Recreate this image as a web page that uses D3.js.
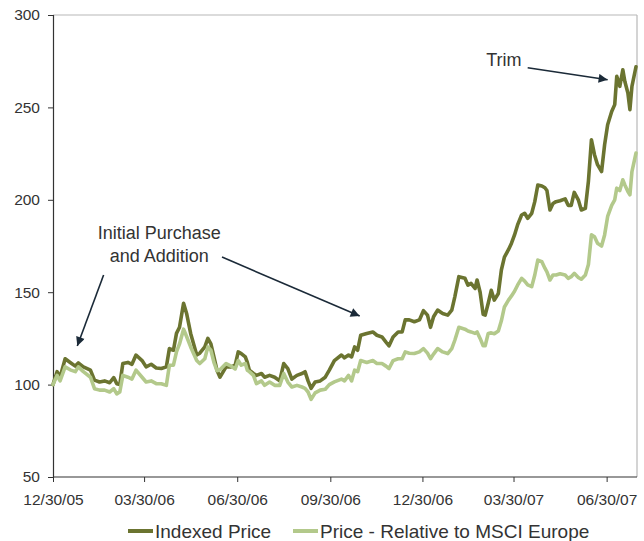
<!DOCTYPE html>
<html><head><meta charset="utf-8">
<script src="https://cdn.jsdelivr.net/npm/d3@7"></script>
<style>body{margin:0;background:#fff}svg{display:block}</style>
</head><body><svg id="c" width="644" height="541"></svg>
<script>
const dates = ["2005-12-30","2006-01-03","2006-01-06","2006-01-11","2006-01-16","2006-01-21","2006-01-24","2006-01-29","2006-02-05","2006-02-09","2006-02-14","2006-02-19","2006-02-24","2006-02-28","2006-03-03","2006-03-06","2006-03-09","2006-03-14","2006-03-18","2006-03-22","2006-03-28","2006-04-01","2006-04-06","2006-04-11","2006-04-16","2006-04-21","2006-04-24","2006-04-28","2006-05-01","2006-05-04","2006-05-08","2006-05-11","2006-05-15","2006-05-21","2006-05-24","2006-05-29","2006-06-01","2006-06-04","2006-06-07","2006-06-10","2006-06-13","2006-06-19","2006-06-24","2006-06-28","2006-07-01","2006-07-04","2006-07-08","2006-07-10","2006-07-12","2006-07-16","2006-07-19","2006-07-24","2006-07-27","2006-08-01","2006-08-06","2006-08-11","2006-08-15","2006-08-19","2006-08-23","2006-08-28","2006-09-02","2006-09-05","2006-09-08","2006-09-11","2006-09-15","2006-09-20","2006-09-25","2006-09-29","2006-10-04","2006-10-11","2006-10-14","2006-10-18","2006-10-21","2006-10-24","2006-10-27","2006-10-30","2006-11-05","2006-11-11","2006-11-15","2006-11-20","2006-11-24","2006-11-27","2006-12-01","2006-12-06","2006-12-10","2006-12-13","2006-12-17","2006-12-22","2006-12-27","2006-12-31","2007-01-04","2007-01-07","2007-01-10","2007-01-14","2007-01-19","2007-01-24","2007-01-28","2007-01-31","2007-02-04","2007-02-10","2007-02-13","2007-02-16","2007-02-20","2007-02-22","2007-02-25","2007-02-28","2007-03-02","2007-03-05","2007-03-08","2007-03-11","2007-03-15","2007-03-18","2007-03-21","2007-03-25","2007-03-28","2007-03-31","2007-04-03","2007-04-07","2007-04-10","2007-04-13","2007-04-17","2007-04-20","2007-04-23","2007-04-27","2007-04-30","2007-05-02","2007-05-05","2007-05-08","2007-05-11","2007-05-15","2007-05-20","2007-05-23","2007-05-26","2007-05-29","2007-06-02","2007-06-05","2007-06-09","2007-06-12","2007-06-15","2007-06-18","2007-06-21","2007-06-25","2007-06-28","2007-07-01","2007-07-05","2007-07-08","2007-07-10","2007-07-13","2007-07-16","2007-07-18","2007-07-21","2007-07-23","2007-07-25","2007-07-29"];
const indexedPrice = [100,107,104,114,112,110,111.7,109.6,107.8,102.4,101.4,102,101,103.8,100.5,100,111.4,112,111,116,113,109.6,111,109,108.7,109.6,119.5,118.6,127.7,131,144,138.5,127.7,116,117,120.4,125,122,115,107.8,104,109.6,109.6,110.5,117.7,116.8,115,112,107.8,106,105,106,104,105,104,102,111.4,108.7,103,105,106,107,102,98,101.4,102,104,107.8,113,116,114.5,116,115,120.4,118.6,126.7,127.7,128.5,126.7,125.8,123,121,125.8,128.5,128.5,135,135,134,135,140,137.6,131,136.7,140.3,138.5,137.6,140.3,147.5,158.4,157.5,153.8,154.8,152,156.6,150,138,137.6,144,151,145.7,149.3,162,169,173,176.5,181,186.4,191.8,192.7,190,192.7,199,208,207.5,206.5,205,194.5,198,199,199.5,200.5,197,197,204,200,194.5,195.4,210,232.5,224.4,219,215.3,229.8,240.6,247.8,251.5,266.8,261.4,270.4,264,257.8,248.8,261.4,272];
const relativePrice = [100,105,102,109.6,108,107,109.6,107,104,97.8,97,97,96,97.8,95,96,105,104,103,107.8,104,101.4,102,100.5,100.5,99.6,110.5,110.5,117.7,122,130,126,120.4,113,111.4,114,120.4,118.6,112,107.5,108,111.4,110,108.5,113,110.5,111.4,107.8,107,105,100.5,102,99.6,101.4,99.6,99.6,106,101.4,98.7,99.6,98.7,98,96,92,95.5,97,97.5,100,101.5,103,102,105,102,107.8,107,113,112,113,111.4,111.4,110,108.7,113,114,114,117.7,117,116.8,117.7,119.5,117,114,116.5,119.5,117.7,116.8,119.5,124,131,130,129,128.5,127.7,128.5,125,121,121,127.7,128,127.5,129,134.5,142,145.7,148,150.5,153.8,157.5,156,154,153,159.3,167.4,166.5,163,161,156.6,159.3,159.3,160,159.3,157.5,158.4,160.2,158,157,159.3,165,181,180,176.5,175,181,191,197,200,206.3,205,210.8,208,204.5,202.7,215.3,225.3];
const seriesNames = ["Indexed Price", "Price - Relative to MSCI Europe"];
const seriesColors = ["#6b7430", "#b3c98b"];
const yTicks = [50, 100, 150, 200, 250, 300];
const xTickDates = ["2005-12-30","2006-03-30","2006-06-30","2006-09-30","2006-12-30","2007-03-30","2007-06-30"];
const xTickLabels = ["12/30/05","03/30/06","06/30/06","09/30/06","12/30/06","03/30/07","06/30/07"];
const xDomain = ["2005-12-30","2007-07-30"];
const yDomain = [50, 300];
// annotations in data space: [date, value]
const annotations = [
  {lines:["Initial Purchase","and Addition"], at:["2006-04-14",178.8], anchor:"middle"},
  {lines:["Trim"], at:["2007-03-03",272.4], anchor:"start"}
];
const arrows = [
  {from:["2006-02-18",159.3], to:["2006-01-23",120.9]},
  {from:["2006-06-15",169], to:["2006-10-29",137.1]},
  {from:["2007-04-13",271.5], to:["2007-07-01",265]}
];

const parse = d3.timeParse("%Y-%m-%d");
const svg = d3.select("#c");
const font = "'Liberation Sans', Arial, sans-serif";
const L = 53, R = 637, T = 15, B = 477;
const x = d3.scaleTime().domain(xDomain.map(parse)).range([L, R]);
const y = d3.scaleLinear().domain(yDomain).range([B, T]);

// frame (top & right gray)
svg.append("line").attr("x1",L).attr("x2",R).attr("y1",T).attr("y2",T).attr("stroke","#b8b8b8").attr("stroke-width",1.2);
svg.append("line").attr("x1",R).attr("x2",R).attr("y1",T).attr("y2",B).attr("stroke","#b8b8b8").attr("stroke-width",1.2);

// y axis
const yAxis = d3.axisLeft(y).tickValues(yTicks).tickSize(5).tickPadding(8).tickFormat(d3.format("d"));
const gy = svg.append("g").attr("transform",`translate(${L},0)`).call(yAxis);
gy.select(".domain").attr("stroke","#333").attr("stroke-width",1.2);
gy.selectAll(".tick line").attr("stroke","#333");
gy.selectAll("text").attr("font-family",font).attr("font-size","15.5px").attr("fill","#333");

// x axis
const xAxis = d3.axisBottom(x).tickValues(xTickDates.map(parse)).tickSize(5).tickPadding(12)
  .tickFormat((d,i)=>xTickLabels[i]);
const gx = svg.append("g").attr("transform",`translate(0,${B})`).call(xAxis);
gx.select(".domain").attr("stroke","#333").attr("stroke-width",1.2).attr("d",`M${L},0H${R}`);
gx.selectAll(".tick line").attr("stroke","#333");
gx.selectAll("text").attr("font-family",font).attr("font-size","15.5px").attr("fill","#333");

// lines
const series = [indexedPrice, relativePrice];
const line = d3.line().x((d,i)=>x(parse(dates[i]))).y(d=>y(d));
series.forEach((s,k)=>{
  svg.append("path").datum(s).attr("d",line).attr("fill","none")
    .attr("stroke",seriesColors[k]).attr("stroke-width",3.6)
    .attr("stroke-linejoin","round").attr("stroke-linecap","round");
});

// arrows
svg.append("defs").append("marker").attr("id","ah").attr("viewBox","0 0 10 10")
  .attr("refX",10).attr("refY",5).attr("markerWidth",11).attr("markerHeight",9)
  .attr("markerUnits","userSpaceOnUse").attr("orient","auto")
  .append("path").attr("d","M0,0L10,5L0,10Z").attr("fill","#1b2a38");
arrows.forEach(a=>{
  svg.append("line")
    .attr("x1",x(parse(a.from[0]))).attr("y1",y(a.from[1]))
    .attr("x2",x(parse(a.to[0]))).attr("y2",y(a.to[1]))
    .attr("stroke","#1b2a38").attr("stroke-width",1.6).attr("marker-end","url(#ah)");
});

// annotation text
annotations.forEach(a=>{
  const t = svg.append("text").attr("font-family",font).attr("font-size","18px").attr("fill","#333")
    .attr("text-anchor",a.anchor);
  a.lines.forEach((ln,i)=>{
    t.append("tspan").attr("x",x(parse(a.at[0]))).attr("y",y(a.at[1])+i*23).text(ln);
  });
});

// legend
const lg = svg.append("g").attr("transform","translate(128,531)");
const legX = [0, 165];
seriesNames.forEach((n,k)=>{
  const g = lg.append("g").attr("transform",`translate(${legX[k]},0)`);
  g.append("line").attr("x1",0).attr("x2",25).attr("y1",0).attr("y2",0)
    .attr("stroke",seriesColors[k]).attr("stroke-width",4);
  g.append("text").attr("x",27).attr("y",7).attr("font-family",font).attr("font-size","19px")
    .attr("fill","#333").text(n);
});
</script></body></html>
